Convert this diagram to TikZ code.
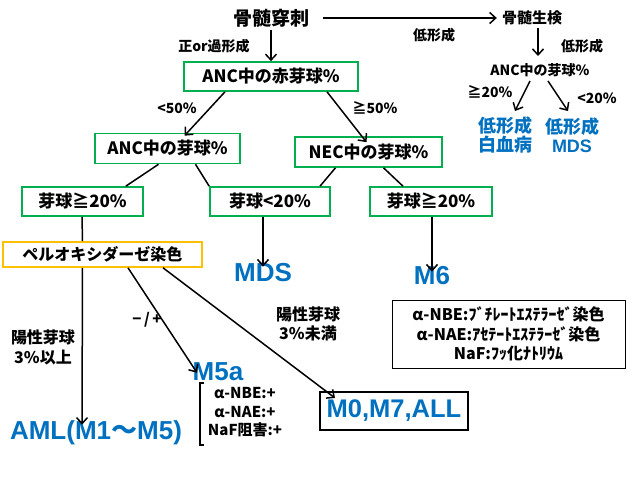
\documentclass[tikz,border=0pt]{standalone}
\usepackage{fontspec}
\setmainfont{Noto Sans CJK JP}
\newfontfamily\lsans{Liberation Sans}
\usetikzlibrary{arrows.meta}
\definecolor{gboxc}{HTML}{00B050}
\definecolor{oboxc}{HTML}{FFC000}
\definecolor{bluet}{HTML}{0070C0}
\tikzset{
  fs/.style={font=\bfseries\fontsize{#1}{#1}\selectfont},
  gbox/.style={draw=gboxc, line width=1.6pt, fill=white, inner sep=0pt, align=center, fs=17},
  obox/.style={draw=oboxc, line width=1.6pt, fill=white, inner sep=0pt, fs=16},
  lbl/.style={inner sep=0pt, align=center, fs=14},
  bigb/.style={inner sep=0pt, text=bluet, font=\lsans\bfseries\fontsize{26}{26}\selectfont},
  midb/.style={inner sep=0pt, text=bluet, align=center, font=\bfseries\fontsize{18}{19}\selectfont},
  arr/.style={line width=1.5pt, -{Straight Barb[length=6pt,width=11pt,line width=1.5pt]}},
  ln/.style={line width=1.5pt},
}
\begin{document}
\begin{tikzpicture}[x=1pt,y=-1pt]
\useasboundingbox[fill=white] (0,0) rectangle (635,479);
% top
\node[inner sep=0pt, fs=19] (punc) at (271,18) {骨髄穿刺};
\node[inner sep=0pt, fs=15] (biop) at (532,18) {骨髄生検};
\draw[arr] ([xshift=14pt]punc.east) -- ([xshift=-5pt]biop.west);
\node[lbl] (lowA) at (434,35) {低形成};
\node[lbl] (normal) at (214,46) {正or過形成};
\coordinate (bdown) at (538,56);
\draw[arr] (538,28) -- (bdown);
\node[lbl] (lowB) at (582,46) {低形成};
\node[lbl] (anc2) at (540,70) {ANC中の芽球\%};
\node[midb] (lowleuk) at (505,135) {低形成\\白血病};
\node[midb] (lowmds) at (572,135) {低形成\\{\lsans MDS}};
\coordinate (a2l) at (530,81);
\coordinate (a2r) at (548,81);
\coordinate (llt) at (515,111);
\coordinate (lmt) at (568,111);
\draw[arr] (a2l) -- (llt);
\draw[arr] (a2r) -- (lmt);
\node[lbl] (ge20a) at (490,92) {≧20\%};
\node[lbl] (lt20a) at (597,98) {<20\%};
% main boxes
\node[gbox, minimum width=174pt, minimum height=29pt] (anc0) at (271,76.5) {ANC中の赤芽球\%};
\draw[arr] (punc.south |- 0,30) -- (anc0.north);
\node[gbox, minimum width=145pt, minimum height=30pt] (ancL) at (167.5,148.5) {ANC中の芽球\%};
\node[gbox, minimum width=147pt, minimum height=30pt] (nec) at (368.5,152) {NEC中の芽球\%};
\draw[arr] ([xshift=-46pt]anc0.south) -- ([xshift=17pt,yshift=-3pt]ancL.north);
\draw[arr] ([xshift=56pt]anc0.south) -- ([xshift=-2pt,yshift=-6pt]nec.north);
\node[lbl] (lt50) at (177,108) {<50\%};
\node[lbl] (ge50) at (375,108) {≧50\%};
\node[gbox, minimum width=121pt, minimum height=29pt] (b1) at (82.5,201.5) {芽球≧20\%};
\node[gbox, minimum width=120pt, minimum height=29pt] (b2) at (270,201.5) {芽球<20\%};
\node[gbox, minimum width=122pt, minimum height=29pt] (b3) at (431,201.5) {芽球≧20\%};
\draw[ln] ([xshift=-9pt]ancL.south) -- ([xshift=-18pt]b1.north east);
\draw[ln] ([xshift=28pt]ancL.south) -- ([xshift=0pt]b2.north west);
\draw[ln] ([xshift=-33pt]nec.south) -- ([xshift=50pt]b2.north);
\draw[ln] ([xshift=15pt]nec.south) -- ([xshift=-28pt]b3.north);
\node[obox, minimum width=199pt, minimum height=25pt] (perox) at (102.5,254.5) {ペルオキシダーゼ染色};
\draw[ln] ([xshift=-0.5pt]b1.south) -- (perox.north -| b1.south);
\node[bigb] (mds) at (263,273) {MDS};
\node[bigb] (m6) at (432,276) {M6};
\draw[arr] ([xshift=-7pt]b2.south) -- ([yshift=-3pt]mds.north);
\draw[arr] ([xshift=1pt]b3.south) -- ([yshift=-5pt]m6.north);
% lower part
\node[bigb] (aml) at (96,433) {AML(M1{\rmfamily〜}M5)};
\draw[arr] (perox.south -| b1.south) -- ([xshift=-14pt,yshift=-4pt]aml.north);
\node[lbl, font=\bfseries\fontsize{16}{20}\selectfont] (pos1) at (43,347) {陽性芽球\\3\%以上};
\node[bigb] (m5a) at (218,372) {M5a};
\draw[arr] ([xshift=25.5pt]perox.south) -- ([xshift=-21pt,yshift=-10pt]m5a.north);
\node[lbl, fs=15] (pm) at (147,320) {−\,/\,+};
\draw[line width=1.2pt] (204,383) -- (200,383) -- (200,445) -- (204,445);
\node[lbl, fs=15] (d1) at (245,393) {α-NBE:+};
\node[lbl, fs=15] (d2) at (245,412) {α-NAE:+};
\node[lbl, fs=15] (d3) at (245,430) {NaF阻害:+};
\node[draw, line width=2pt, minimum width=148pt, minimum height=38pt, inner sep=0pt, text=bluet, font=\lsans\bfseries\fontsize{25.5}{25.5}\selectfont] (m0) at (394,411) {M0,M7,ALL};
\draw[arr] ([xshift=60.5pt]perox.south) -- ([xshift=-59pt,yshift=-7pt]m0.north);
\node[lbl, font=\bfseries\fontsize{16}{19}\selectfont] (pos2) at (308,324) {陽性芽球\\3\%未満};
\node[draw, line width=1pt, minimum width=233pt, minimum height=68pt, inner sep=0pt, align=center, font=\bfseries\fontsize{16}{19.5}\selectfont] (leg) at (508.5,334) {α-NBE:ﾌﾞﾁﾚｰﾄｴｽﾃﾗｰｾﾞ染色\\α-NAE:ｱｾﾃｰﾄｴｽﾃﾗｰｾﾞ染色\\NaF:ﾌｯ化ﾅﾄﾘｳﾑ};
\end{tikzpicture}
\end{document}
